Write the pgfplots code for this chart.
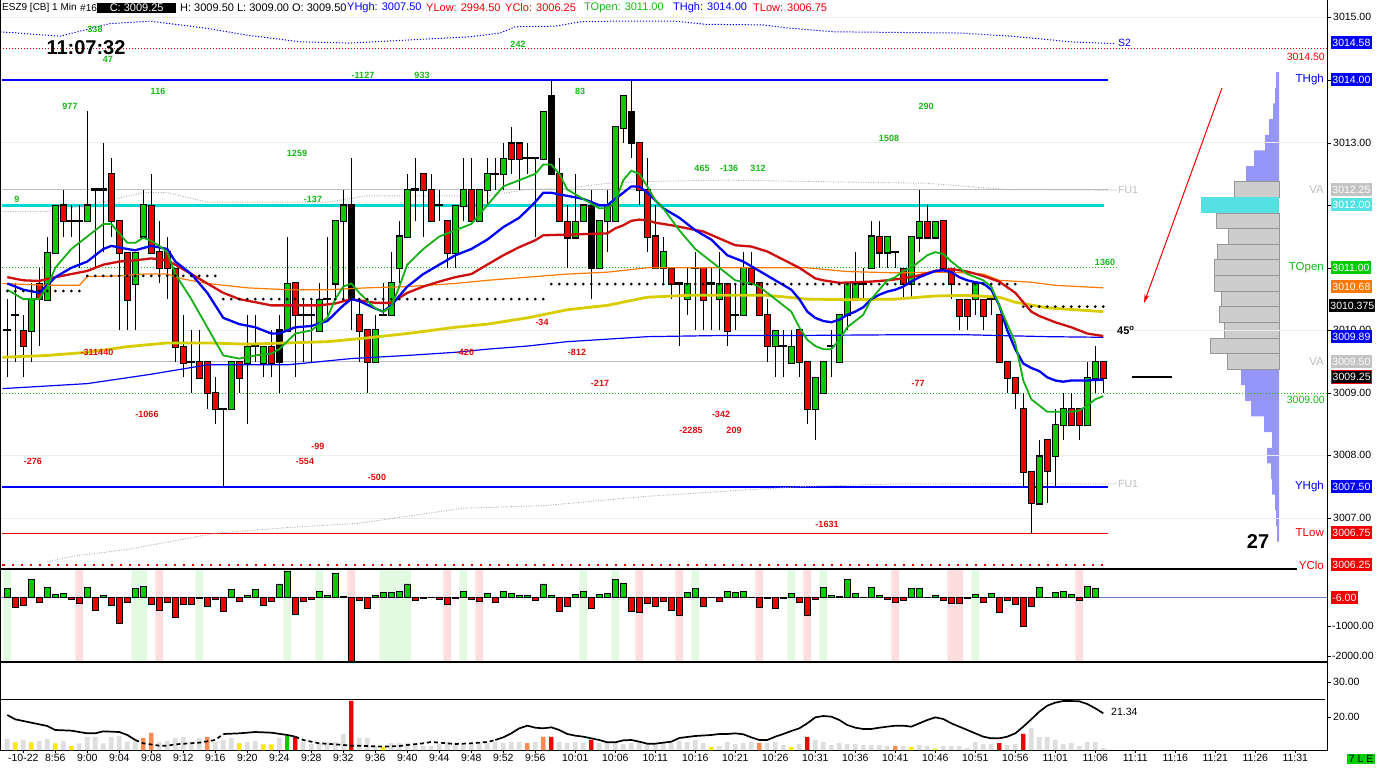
\documentclass[border=0pt]{standalone}
\usepackage{pgfplots}
\pgfplotsset{compat=1.18}
\usepackage{pgfplotstable}
\usepackage{fontspec}
\setmainfont{Liberation Sans}
\usetikzlibrary{arrows.meta}
\definecolor{cgreen}{RGB}{0,205,0}
\definecolor{cred}{RGB}{240,0,0}
\definecolor{magreen}{RGB}{20,175,20}
\definecolor{mablue}{RGB}{0,0,250}
\definecolor{mared}{RGB}{205,15,15}
\definecolor{maorange}{RGB}{255,120,0}
\definecolor{mayellow}{RGB}{215,205,0}
\definecolor{lcyan}{RGB}{0,215,215}
\definecolor{bcyan}{RGB}{85,225,225}
\definecolor{lav}{RGB}{150,150,250}
\definecolor{pgrey}{RGB}{205,205,205}
\definecolor{pgreyd}{RGB}{150,150,150}
\definecolor{tgreen}{RGB}{20,185,20}
\definecolor{tred}{RGB}{220,10,10}
\definecolor{shgc}{RGB}{226,250,226}
\definecolor{shrc}{RGB}{252,222,222}
\definecolor{vgrey}{RGB}{222,222,222}
\definecolor{vyellow}{RGB}{250,235,0}
\definecolor{vorange}{RGB}{250,140,80}
\definecolor{gridl}{RGB}{236,236,236}
\definecolor{vagrey}{RGB}{190,190,190}
\definecolor{dotgrey}{RGB}{175,175,175}
\definecolor{boxgrey}{RGB}{195,195,195}
\definecolor{zline}{RGB}{110,130,200}
\newcommand\fs[1]{\fontsize{#1}{#1}\selectfont}
\pgfplotsset{base/.style={scale only axis, hide axis, clip=false, anchor=south west, xmin=-0.9125, xmax=165.0875, width=1328pt},
 eb/.style 2 args={draw=none, mark=none, error bars/y dir=both, error bars/y explicit, error bars/error mark=none, error bars/error bar style={draw=#1, solid, line width=#2}}}
\tikzset{
 gt/.style={font=\fs{9}\bfseries, text=tgreen, inner sep=0pt},
 rt/.style={font=\fs{9}\bfseries, text=tred, inner sep=0pt},
 al/.style={font=\fs{10.5}, inner sep=0pt, anchor=west},
 bx/.style={font=\fs{10.5}, inner sep=1.2pt, anchor=west, fill=#1, text=white, minimum height=13pt},
 ll/.style={font=\fs{11.5}, inner sep=0pt, anchor=east},
 hd/.style={font=\fs{11}, inner sep=0pt, anchor=west},
}
% ---------- candle data ----------
\pgfplotstableread{
k H L
0 3010.50 3009.25
1 3010.75 3009.50
2 3010.25 3009.25
3 3010.75 3009.50
4 3011.00 3009.75
5 3011.50 3010.50
6 3012.00 3011.25
7 3012.25 3011.50
8 3012.00 3011.50
9 3012.00 3011.00
10 3013.50 3011.75
11 3012.25 3011.00
12 3013.00 3011.25
13 3012.75 3011.50
14 3011.75 3010.00
15 3011.25 3010.00
16 3011.25 3010.00
17 3012.25 3011.50
18 3012.50 3011.25
19 3011.75 3010.75
20 3011.50 3010.50
21 3011.00 3009.50
22 3010.25 3009.25
23 3010.00 3009.00
24 3010.00 3009.25
25 3009.50 3008.75
26 3009.25 3008.50
27 3008.75 3007.50
28 3009.50 3008.75
29 3009.50 3009.00
30 3010.25 3008.50
31 3010.25 3009.50
32 3009.75 3009.25
33 3010.00 3009.25
34 3010.25 3009.00
35 3011.50 3010.00
36 3010.75 3009.25
37 3010.50 3009.50
38 3010.50 3009.50
39 3010.75 3010.00
40 3011.50 3010.25
41 3011.75 3010.50
42 3012.25 3010.50
43 3012.75 3010.00
44 3010.50 3009.50
45 3010.00 3009.00
46 3010.25 3009.50
47 3010.75 3010.25
48 3011.25 3010.25
49 3011.75 3010.75
50 3012.50 3011.50
51 3012.75 3011.75
52 3012.50 3011.50
53 3012.50 3011.75
54 3012.25 3011.75
55 3011.75 3011.00
56 3012.00 3011.00
57 3012.75 3011.75
58 3012.75 3011.75
59 3012.25 3011.75
60 3012.75 3012.00
61 3012.75 3012.25
62 3013.00 3012.25
63 3013.25 3012.50
64 3013.00 3012.25
65 3013.00 3012.50
66 3012.75 3011.50
67 3013.50 3012.75
68 3014.00 3012.50
69 3012.75 3011.75
70 3012.00 3011.00
71 3012.50 3011.50
72 3012.00 3011.75
73 3012.25 3010.50
74 3011.75 3011.00
75 3012.25 3011.25
76 3013.25 3011.75
77 3013.75 3013.00
78 3014.00 3012.75
79 3013.00 3012.00
80 3012.75 3011.25
81 3012.00 3011.00
82 3011.50 3010.75
83 3011.00 3010.50
84 3010.75 3009.75
85 3011.00 3010.25
86 3011.25 3010.00
87 3011.00 3010.00
88 3011.00 3010.00
89 3011.25 3010.00
90 3010.75 3009.75
91 3010.75 3010.00
92 3011.25 3010.25
93 3011.25 3010.75
94 3010.75 3010.25
95 3010.50 3009.50
96 3010.00 3009.25
97 3010.00 3009.25
98 3010.00 3009.50
99 3010.00 3009.25
100 3009.50 3008.50
101 3009.25 3008.25
102 3009.50 3009.00
103 3010.00 3009.25
104 3010.25 3009.50
105 3010.75 3010.00
106 3011.25 3010.50
107 3011.00 3010.50
108 3011.75 3011.00
109 3011.75 3011.00
110 3011.50 3011.00
111 3011.25 3011.00
112 3011.00 3010.50
113 3011.50 3010.50
114 3012.25 3011.25
115 3012.00 3011.50
116 3011.75 3011.50
117 3011.75 3011.00
118 3011.00 3010.50
119 3010.50 3010.00
120 3010.50 3010.00
121 3010.75 3010.25
122 3010.50 3010.00
123 3010.50 3010.25
124 3010.25 3009.50
125 3009.50 3009.00
126 3009.25 3008.75
127 3009.00 3007.50
128 3007.75 3006.75
129 3008.25 3007.25
130 3008.25 3007.25
131 3008.75 3007.50
132 3009.00 3008.25
133 3009.00 3008.50
134 3008.75 3008.25
135 3009.50 3008.50
136 3009.75 3009.00
137 3009.50 3009.00
}\tWick
\pgfplotstableread{
k O C
3 3010.00 3010.50
5 3010.50 3011.25
6 3011.25 3012.00
10 3011.75 3012.00
16 3010.75 3011.25
17 3011.50 3012.00
28 3008.75 3009.50
30 3009.50 3009.75
32 3009.50 3009.75
35 3010.00 3010.75
39 3010.00 3010.50
41 3010.75 3011.75
42 3011.75 3012.00
46 3009.50 3010.00
48 3010.25 3010.75
49 3011.00 3011.50
50 3011.50 3012.25
56 3011.25 3012.00
57 3012.00 3012.25
59 3011.75 3012.25
60 3012.25 3012.50
62 3012.50 3012.75
67 3012.75 3013.50
71 3011.50 3011.75
72 3011.75 3012.00
74 3011.00 3011.75
75 3011.75 3012.00
76 3011.75 3013.25
77 3013.25 3013.75
82 3011.00 3011.25
85 3010.50 3010.75
89 3010.50 3010.75
92 3010.25 3011.00
96 3009.75 3010.00
98 3009.50 3009.75
101 3008.75 3009.25
102 3009.00 3009.50
104 3009.50 3010.25
105 3010.25 3010.75
106 3010.50 3010.75
108 3011.00 3011.50
110 3011.25 3011.50
113 3010.75 3011.50
114 3011.50 3011.75
116 3011.50 3011.75
121 3010.50 3010.75
129 3007.25 3008.00
131 3008.00 3008.50
132 3008.50 3008.75
135 3008.50 3009.25
136 3009.25 3009.50
}\tUp
\pgfplotstableread{
k O C
2 3010.00 3009.75
4 3010.75 3010.50
7 3012.00 3011.75
13 3012.50 3011.75
14 3011.75 3011.25
15 3011.25 3010.50
18 3012.00 3011.25
19 3011.25 3011.00
20 3011.25 3011.00
21 3011.00 3009.75
22 3009.75 3009.50
24 3009.50 3009.25
25 3009.50 3009.00
26 3009.00 3008.75
29 3009.50 3009.25
33 3009.75 3009.50
36 3010.75 3010.25
44 3010.25 3010.00
45 3010.00 3009.50
52 3012.50 3012.25
53 3012.25 3011.75
55 3011.75 3011.25
58 3012.25 3011.75
63 3013.00 3012.75
64 3013.00 3012.75
69 3012.50 3011.75
70 3011.75 3011.50
79 3013.00 3012.25
80 3012.25 3011.50
81 3011.50 3011.00
83 3011.00 3010.75
87 3011.00 3010.50
90 3010.75 3010.00
93 3011.00 3010.75
94 3010.75 3010.25
95 3010.25 3009.75
99 3010.00 3009.50
100 3009.50 3008.75
109 3011.50 3011.25
112 3011.00 3010.75
115 3011.75 3011.50
117 3011.75 3011.00
118 3011.00 3010.75
119 3010.50 3010.25
120 3010.50 3010.25
122 3010.50 3010.25
124 3010.25 3009.50
125 3009.50 3009.25
126 3009.25 3009.00
127 3008.75 3007.75
128 3007.75 3007.25
130 3008.25 3007.75
133 3008.75 3008.50
134 3008.75 3008.50
137 3009.50 3009.25
}\tDn
\pgfplotstableread{
k O C
34 3010.00 3009.50
43 3012.00 3010.50
68 3013.75 3012.50
73 3012.00 3011.00
78 3013.50 3013.00
}\tBlk
\pgfplotstableread{
k P
0 3010.00
1 3010.25
8 3011.75
9 3011.75
11 3012.25
12 3012.25
23 3009.50
27 3008.75
31 3009.75
37 3010.25
38 3010.25
40 3010.50
47 3010.25
51 3012.25
54 3012.00
61 3012.50
65 3012.75
66 3012.75
84 3010.75
86 3011.00
88 3010.75
91 3010.25
97 3009.75
103 3009.75
107 3010.75
111 3011.25
123 3010.50
}\tDoji
% ---------- delta ----------
\pgfplotstableread{
k v
0 318
3 611
5 353
6 118
7 153
10 353
12 82
16 318
17 388
28 282
30 82
31 282
34 470
35 917
39 212
40 82
41 847
42 35
46 82
47 176
48 176
49 212
50 470
53 15
57 212
60 141
62 212
63 141
64 59
65 82
67 470
68 82
71 106
72 212
74 118
75 141
76 611
77 505
85 176
86 318
88 15
90 212
91 176
92 212
93 20
98 141
102 353
103 82
104 35
105 623
106 141
107 20
108 353
109 82
113 318
114 318
115 15
116 82
121 106
123 141
129 353
130 15
131 176
132 212
133 118
135 388
136 318
}\tDpos
\pgfplotstableread{
k v
1 -353
2 -270
4 -176
8 -70
9 -212
11 -435
13 -270
14 -882
15 -176
18 -247
19 -435
20 -176
21 -670
22 -247
23 -247
24 -35
25 -318
26 -70
27 -470
29 -141
32 -270
33 -141
36 -564
37 -141
38 -70
43 -2224
44 -106
45 -388
51 -106
52 -35
54 -70
55 -247
56 -35
58 -70
59 -141
61 -176
66 -106
69 -494
70 -318
73 -388
78 -470
79 -529
80 -212
81 -318
82 -141
83 -435
84 -600
87 -318
89 -141
94 -353
95 -20
96 -388
97 -35
99 -176
100 -600
101 -70
110 -70
111 -176
112 -106
117 -106
118 -212
119 -212
120 -20
122 -176
124 -529
125 -106
126 -247
127 -1000
128 -294
134 -106
}\tDneg
\pgfplotstableread{
k top bot
0 983 -2224
16 983 -2224
17 983 -2224
24 983 -2224
35 983 -2224
39 983 -2224
47 983 -2224
48 983 -2224
49 983 -2224
50 983 -2224
57 983 -2224
72 983 -2224
76 983 -2224
86 983 -2224
98 983 -2224
102 983 -2224
121 983 -2224
}\tShG
\pgfplotstableread{
k top bot
9 983 -2224
19 983 -2224
43 983 -2224
55 983 -2224
59 983 -2224
79 983 -2224
84 983 -2224
94 983 -2224
100 983 -2224
111 983 -2224
118 983 -2224
119 983 -2224
134 983 -2224
}\tShR
% ---------- volume ----------
\pgfplotstableread{
k h
0 11
1 7.7
2 10
3 7.7
4 9
5 11
6 6.7
7 9
8 4
9 6.7
10 13
11 13
12 6.7
13 13
14 14
15 8
16 9
17 12
18 17
19 8
20 9
21 12
22 13
23 8
24 12
25 13
26 8
27 10
28 12
29 6.7
30 8
31 9
32 5.7
33 5.7
34 12
35 14
36 13
37 8
38 6
39 7
40 8
41 8
42 16
43 49
44 12
45 12
46 4
47 3
48 7
49 7
50 7
51 5
52 4
53 4
54 6
55 8
56 7
57 7
58 6
59 8
60 7
61 8
62 7
63 8
64 8
65 7
66 8
67 13
68 13
69 8
70 7
71 8
72 7
73 10
74 7
75 7
76 8
77 6
78 7
79 8
80 7
81 6
82 7
83 7
84 9
85 8
86 10
87 7
88 3
89 4
90 8
91 6
92 7
93 8
94 7
95 7
96 8
97 5
98 3
99 6
100 13
101 10
102 8
103 5
104 7
105 6
106 6
107 5
108 5
109 5
110 4
111 4
112 4
113 3
114 5
115 4
116 1.5
117 4
118 4
119 4
120 2
121 8
122 6
123 6
124 7
125 5
126 6
127 16
128 22
129 13
130 13
131 10
132 6
133 7
134 4
135 8
136 8
137 2
}\tVol
\begin{document}
\begin{tikzpicture}
\useasboundingbox (0pt,0pt) rectangle (1377pt,769pt);
% ================= volume profile =================
\begin{axis}[scale only axis, hide axis, clip=false, anchor=south west, at={(1179pt,200pt)}, width=100pt, height=557pt, xmin=0, xmax=100, x dir=reverse, ymin=3006.1885, ymax=3015.0863]
\addplot[xbar, bar width=0.25, bar shift=0pt, fill=lav, draw=none] coordinates {(3,3014) (4,3013.75) (6,3013.5) (10,3013.25) (14,3013) (25,3012.75) (33,3012.5) (38,3009.25) (34,3009) (28,3008.75) (15,3008.5) (7,3008.25) (12,3008) (8,3007.75) (7,3007.5) (4,3007.25) (3,3007) (2,3006.75)};
\addplot[xbar, bar width=0.25, bar shift=0pt, fill=pgrey, draw=pgreyd, line width=1pt] coordinates {(45,3012.25) (63,3011.75) (51,3011.5) (62,3011.25) (65,3011) (65,3010.75) (58,3010.5) (60,3010.25) (55,3010) (69,3009.75) (52,3009.5)};
\addplot[xbar, bar width=0.25, bar shift=0pt, fill=bcyan, draw=none] coordinates {(78,3012)};
\end{axis}
% ================= main price panel =================
\begin{axis}[base, at={(0pt,200pt)}, height=557pt, ymin=3006.1885, ymax=3015.0863]
\addplot[gridl, line width=1pt] coordinates {(-0.9,3015) (165.08,3015)};
\addplot[gridl, line width=1pt] coordinates {(-0.9,3013) (165.08,3013)};
\addplot[gridl, line width=1pt] coordinates {(-0.9,3010) (165.08,3010)};
\addplot[gridl, line width=1pt] coordinates {(-0.9,3008) (165.08,3008)};
\addplot[gridl, line width=1pt] coordinates {(-0.9,3007) (165.08,3007)};
% reference levels
\addplot[vagrey, line width=1.2pt] coordinates {(-0.6,3012.25) (137.6,3012.25)};
\addplot[vagrey, line width=1.2pt] coordinates {(-0.6,3009.5) (137.6,3009.5)};
\addplot[tgreen, line width=1pt, dash pattern=on 1pt off 2pt] coordinates {(-0.6,3011) (138.8,3011)};
\addplot[tgreen, line width=1pt, dash pattern=on 1pt off 2pt] coordinates {(-0.6,3009) (165,3009)};
\addplot[mablue, line width=1.3pt] coordinates {(-0.6,3014) (137.6,3014)};
\addplot[lcyan, line width=2.6pt] coordinates {(-0.6,3012) (137.1,3012)};
\addplot[mablue, line width=2.2pt] coordinates {(-0.6,3007.5) (137.6,3007.5)};
\addplot[cred, line width=1.2pt] coordinates {(-0.6,3006.75) (137.6,3006.75)};
\addplot[cred, line width=2.5pt, dash pattern=on 2.5pt off 6.5pt] coordinates {(-0.6,3006.25) (137,3006.25)};
\addplot[cred!85!black, line width=0.8pt, dash pattern=on 1pt off 2pt] coordinates {(-0.9,3014.5) (165,3014.5)};
% S2 curve
\addplot[mablue, line width=1pt, dash pattern=on 1.2pt off 1.8pt] coordinates {(-0.9,3014.77) (6.6,3014.70) (12.8,3014.9) (17.8,3014.94) (24.7,3014.83) (29.8,3014.72) (36.6,3014.61) (42.8,3014.59) (50.3,3014.64) (57.8,3014.69) (61.6,3014.75) (63.5,3014.85) (68.5,3014.86) (71.6,3014.93) (76,3014.94) (83.5,3014.94) (87.3,3014.89) (94.5,3014.88) (97.6,3014.83) (103.2,3014.77) (119.2,3014.75) (125.5,3014.70) (129.7,3014.65) (132.8,3014.61) (138.5,3014.58)};
% FU1 curves
\addplot[dotgrey, line width=0.9pt, dash pattern=on 1pt off 1.5pt] coordinates {(-0.6,3011.9) (5,3011.9) (10,3012.0) (17,3012.2) (20,3012.2) (25,3012.05) (40,3012.05) (45,3012.15) (60,3012.15) (65,3012.25) (70,3012.27) (75,3012.35) (80,3012.38) (90,3012.4) (100,3012.38) (115,3012.35) (120,3012.3) (125,3012.25) (138.8,3012.24)};
\addplot[dotgrey, line width=0.9pt, dash pattern=on 1pt off 1.5pt] coordinates {(5,3006.3) (8,3006.39) (15,3006.5) (26,3006.76) (35,3006.85) (44,3006.92) (57,3007.16) (67,3007.2) (80,3007.35) (92,3007.45) (100,3007.51) (112,3007.55) (138.8,3007.55)};
% candles: wicks
\addplot[draw=none, mark=none, error bars/y dir=plus, error bars/y explicit, error bars/error mark=none, error bars/error bar style={draw=black, solid, line width=1pt}] table[x=k, y=L, y error expr={\thisrow{H}-\thisrow{L}}] {\tWick};
% up bodies
\addplot[eb={black}{7pt}] table[x=k, y expr={(\thisrow{O}+\thisrow{C})/2}, y error expr={abs(\thisrow{C}-\thisrow{O})/2+0.017}] {\tUp};
\addplot[eb={cgreen}{5pt}] table[x=k, y expr={(\thisrow{O}+\thisrow{C})/2}, y error expr={abs(\thisrow{C}-\thisrow{O})/2}] {\tUp};
% down bodies
\addplot[eb={black}{7pt}] table[x=k, y expr={(\thisrow{O}+\thisrow{C})/2}, y error expr={abs(\thisrow{C}-\thisrow{O})/2+0.017}] {\tDn};
\addplot[eb={cred}{5pt}] table[x=k, y expr={(\thisrow{O}+\thisrow{C})/2}, y error expr={abs(\thisrow{C}-\thisrow{O})/2}] {\tDn};
% black bodies
\addplot[eb={black}{7pt}] table[x=k, y expr={(\thisrow{O}+\thisrow{C})/2}, y error expr={abs(\thisrow{C}-\thisrow{O})/2+0.017}] {\tBlk};
% doji
\addplot[eb={black}{8pt}] table[x=k, y=P, y error expr={0.017}] {\tDoji};
% moving averages
\addplot[mablue, line width=1.2pt] coordinates {(-0.6,3009.07) (10,3009.15) (18,3009.3) (25,3009.45) (35,3009.45) (43,3009.55) (50,3009.6) (56,3009.65) (60,3009.7) (65,3009.75) (70,3009.82) (80,3009.9) (90,3009.92) (100,3009.92) (111,3009.93) (120,3009.93) (130,3009.9) (137,3009.89)};
\addplot[mayellow, line width=2.8pt] coordinates {(-0.6,3009.57) (5,3009.6) (10,3009.65) (15,3009.74) (20,3009.8) (25,3009.8) (30,3009.78) (35,3009.8) (40,3009.82) (45,3009.88) (50,3009.95) (56,3010.05) (60,3010.1) (65,3010.2) (70,3010.33) (75,3010.4) (80,3010.53) (85,3010.56) (90,3010.56) (95,3010.56) (100,3010.5) (105,3010.49) (111,3010.5) (116,3010.55) (120,3010.56) (124,3010.53) (126,3010.45) (130,3010.36) (137,3010.3)};
\addplot[maorange, line width=1.2pt] coordinates {(-0.6,3010.75) (5,3010.72) (9,3010.72) (10,3010.86) (14,3010.87) (17,3010.9) (20,3010.9) (22,3010.82) (25,3010.75) (30,3010.68) (35,3010.65) (40,3010.65) (45,3010.68) (50,3010.7) (56,3010.75) (60,3010.8) (65,3010.85) (70,3010.9) (75,3010.93) (80,3011.0) (90,3011.0) (100,3011.0) (105,3010.94) (111,3010.92) (118,3010.93) (122,3010.9) (124,3010.8) (128,3010.77) (131,3010.72) (137,3010.68)};
\addplot[mared, line width=2.3pt] coordinates {(0,3010.85) (2,3010.8) (4,3010.79) (6,3010.85) (8,3010.9) (10,3010.95) (12,3011.05) (14,3011.1) (16,3011.12) (18,3011.15) (20,3011.12) (21,3011.05) (23,3010.9) (25,3010.75) (27,3010.6) (29,3010.5) (31,3010.45) (33,3010.4) (35,3010.4) (37,3010.4) (39,3010.4) (41,3010.43) (43,3010.5) (45,3010.46) (46,3010.44) (48,3010.44) (50,3010.6) (52,3010.7) (54,3010.78) (56,3010.85) (58,3010.9) (60,3011.05) (62,3011.2) (64,3011.33) (66,3011.44) (67,3011.52) (70,3011.53) (75,3011.55) (76,3011.63) (77,3011.68) (78,3011.75) (79,3011.77) (80,3011.76) (81,3011.72) (83,3011.68) (85,3011.63) (87,3011.58) (89,3011.47) (91,3011.36) (93,3011.34) (95,3011.26) (97,3011.13) (99,3011.0) (101,3010.83) (102,3010.8) (104,3010.76) (106,3010.77) (108,3010.78) (110,3010.8) (112,3010.83) (114,3010.88) (116,3010.95) (118,3010.98) (120,3010.94) (122,3010.87) (124,3010.78) (126,3010.6) (127,3010.45) (128,3010.3) (129,3010.23) (131,3010.13) (133,3010.05) (135,3009.95) (137,3009.91)};
\addplot[mablue, line width=2.3pt] coordinates {(0,3010.75) (2,3010.65) (4,3010.6) (6,3010.85) (8,3011.0) (10,3011.1) (12,3011.3) (13,3011.35) (15,3011.3) (16,3011.28) (18,3011.35) (20,3011.3) (21,3011.1) (23,3010.9) (25,3010.6) (27,3010.2) (29,3010.1) (31,3010.05) (33,3009.95) (34,3009.95) (36,3010.05) (38,3010.07) (40,3010.15) (42,3010.4) (43,3010.5) (44,3010.47) (46,3010.35) (47,3010.3) (48,3010.4) (49,3010.55) (50,3010.7) (52,3010.9) (54,3011.05) (56,3011.2) (58,3011.3) (60,3011.45) (62,3011.65) (64,3011.8) (66,3012.05) (67,3012.2) (68,3012.2) (69,3012.17) (70,3012.15) (72,3012.1) (74,3012.0) (75,3012.0) (76,3012.1) (77,3012.2) (78,3012.3) (79,3012.3) (80,3012.2) (81,3012.08) (82,3011.95) (84,3011.8) (86,3011.6) (88,3011.45) (90,3011.2) (92,3011.1) (94,3010.95) (96,3010.8) (98,3010.65) (99,3010.5) (100,3010.3) (101,3010.2) (102,3010.15) (103,3010.13) (104,3010.17) (105,3010.25) (106,3010.3) (107,3010.37) (108,3010.5) (109,3010.57) (110,3010.62) (111,3010.65) (112,3010.7) (113,3010.78) (114,3010.85) (115,3010.9) (116,3010.95) (117,3010.96) (118,3010.93) (119,3010.85) (120,3010.8) (121,3010.77) (122,3010.75) (123,3010.65) (124,3010.4) (125,3010.0) (126,3009.7) (127,3009.47) (128,3009.4) (129,3009.35) (130,3009.25) (131,3009.2) (132,3009.18) (133,3009.2) (134,3009.2) (135,3009.2) (136,3009.21) (137,3009.21)};
\addplot[magreen, line width=1.8pt] coordinates {(0,3010.65) (2,3010.5) (4,3010.5) (5,3010.7) (6,3011.0) (8,3011.3) (10,3011.5) (12,3011.7) (13,3011.7) (15,3011.4) (16,3011.4) (17,3011.48) (18,3011.43) (19,3011.35) (20,3011.25) (21,3010.9) (23,3010.5) (25,3010.05) (27,3009.6) (29,3009.55) (31,3009.6) (33,3009.63) (34,3009.7) (36,3009.95) (38,3010.0) (40,3010.2) (41,3010.5) (42,3010.7) (43,3010.75) (44,3010.6) (46,3010.35) (47,3010.3) (48,3010.38) (49,3010.7) (50,3011.05) (52,3011.3) (54,3011.5) (56,3011.6) (58,3011.7) (60,3012.0) (62,3012.3) (64,3012.4) (66,3012.5) (67,3012.65) (68,3012.65) (69,3012.5) (70,3012.25) (72,3012.1) (74,3011.95) (75,3011.95) (76,3012.05) (77,3012.4) (78,3012.55) (79,3012.5) (80,3012.3) (81,3012.08) (82,3011.95) (84,3011.6) (86,3011.3) (88,3011.1) (89,3011.0) (91,3010.8) (93,3010.75) (94,3010.7) (96,3010.5) (98,3010.3) (99,3010.05) (100,3009.85) (101,3009.75) (102,3009.7) (103,3009.7) (104,3009.85) (105,3010.05) (106,3010.15) (107,3010.25) (108,3010.5) (109,3010.65) (110,3010.8) (111,3010.85) (112,3010.95) (113,3011.0) (114,3011.1) (115,3011.2) (116,3011.25) (117,3011.22) (118,3011.1) (119,3011.0) (120,3010.9) (121,3010.85) (122,3010.8) (123,3010.7) (124,3010.4) (125,3010.1) (126,3009.8) (127,3009.2) (128,3008.9) (129,3008.8) (130,3008.7) (131,3008.7) (132,3008.7) (133,3008.7) (134,3008.72) (135,3008.8) (136,3008.9) (137,3008.95)};
% pivot dots
\addplot[black, line width=3pt, line cap=round, dash pattern=on 0pt off 8pt] coordinates {(0,3010.63) (9.2,3010.63)};
\addplot[black, line width=3pt, line cap=round, dash pattern=on 0pt off 8pt] coordinates {(10,3010.87) (26.2,3010.87)};
\addplot[black, line width=3pt, line cap=round, dash pattern=on 0pt off 8pt] coordinates {(27,3010.5) (67.2,3010.5)};
\addplot[black, line width=3pt, line cap=round, dash pattern=on 0pt off 8pt] coordinates {(68,3010.74) (126.2,3010.74)};
\addplot[black, line width=3pt, line cap=round, dash pattern=on 0pt off 8pt] coordinates {(127,3010.38) (137.2,3010.38)};
\end{axis}
% ================= delta panel =================
\begin{axis}[base, at={(0pt,107pt)}, height=93pt, ymin=-2224, ymax=983]
\addplot[ybar, bar width=0.95, bar shift=0pt, fill=shgc, draw=none] table[x=k, y=top] {\tShG};
\addplot[ybar, bar width=0.95, bar shift=0pt, fill=shgc, draw=none] table[x=k, y=bot] {\tShG};
\addplot[ybar, bar width=0.95, bar shift=0pt, fill=shrc, draw=none] table[x=k, y=top] {\tShR};
\addplot[ybar, bar width=0.95, bar shift=0pt, fill=shrc, draw=none] table[x=k, y=bot] {\tShR};
\addplot[zline, line width=1pt] coordinates {(-0.9,0) (165.08,0)};
\addplot[ybar, bar width=0.78, bar shift=0pt, fill=cgreen, draw=black, line width=0.7pt] table[x=k, y=v] {\tDpos};
\addplot[ybar, bar width=0.78, bar shift=0pt, fill=cred, draw=black, line width=0.7pt] table[x=k, y=v] {\tDneg};
\end{axis}
% ================= volume + time axis =================
\begin{axis}[scale only axis, anchor=south west, at={(0pt,19pt)}, xmin=-0.9125, xmax=165.0875, width=1328pt, height=88pt, ymin=0, ymax=88, clip=false,
  axis x line*=bottom, axis y line=none, x axis line style={-, line width=1pt},
  xtick={2,6,10,14,18,22,26,30,34,38,42,46,50,54,58,62,66,71,76,81,86,91,96,101,106,111,116,121,126,131,136,141,146,151,156,161},
  xticklabels={-10-22,8:56,9:00,9:04,9:08,9:12,9:16,9:20,9:24,9:28,9:32,9:36,9:40,9:44,9:48,9:52,9:56,10:01,10:06,10:11,10:16,10:21,10:26,10:31,10:36,10:41,10:46,10:51,10:56,11:01,11:06,11:11,11:16,11:21,11:26,11:31},
  tick align=outside, major tick length=3pt, xtick style={black, line width=0.8pt},
  xticklabel style={font=\fs{10.5}, inner sep=1pt}]
\addplot[ybar, bar width=0.6, bar shift=0pt, fill=vgrey, draw=none] table[x=k, y=h] {\tVol};
\addplot[ybar, bar width=0.55, bar shift=0pt, fill=vyellow, draw=none] coordinates {(1,7.7) (3,7.7) (6,6.7) (8,4) (29,6.7) (32,5.7) (33,5.7) (47,3) (88,3) (98,3) (113,3) (116,1.5)};
\addplot[ybar, bar width=0.55, bar shift=0pt, fill=vorange, draw=none] coordinates {(17,12) (18,17) (25,13) (65,7) (67,13) (94,7) (111,4)};
\addplot[ybar, bar width=0.55, bar shift=0pt, fill=cred, draw=none] coordinates {(36,13) (43,49) (68,13) (73,10) (100,13) (124,7) (127,16)};
\addplot[ybar, bar width=0.55, bar shift=0pt, fill=cgreen, draw=none] coordinates {(35,14)};
\end{axis}
\begin{axis}[base, at={(0pt,19pt)}, height=88pt, ymin=10.571, ymax=35.714]
\addplot[black, line width=1.7pt] coordinates {(0,20.57) (1,19.33) (3,18.38) (5,17.43) (6,16.29) (8,16.1) (10,15.33) (11,15.33) (12,15.9) (14,15.71) (15,14.86) (16,13.43)};
\addplot[black, line width=1.7pt, dash pattern=on 4pt off 3pt] coordinates {(16,13.43) (17,12.48) (19,11.81) (20,11.81) (21,12.19) (24,12.67) (26,13.43) (27,15.14)};
\addplot[black, line width=1.7pt] coordinates {(27,15.14) (29,15.33) (31,15.71) (33,15.52) (35,14.86) (36,14.38)};
\addplot[black, line width=1.7pt, dash pattern=on 4pt off 3pt] coordinates {(36,14.38) (37,13.43) (39,12.48) (41,12.19) (43,11.81) (45,11.71) (47,11.52) (49,11.71) (50,12.0) (52,12.48) (53,12.86) (55,12.48) (56,12.29) (58,12.48) (60,12.86) (61,13.43)};
\addplot[black, line width=1.7pt] coordinates {(61,13.43) (62,14.19) (63,15.33) (64,16.76) (65,17.52) (66,16.95) (67,16.76) (68,17.05) (69,16.29) (70,15.14) (71,14.67) (72,14.38) (73,13.9) (74,13.43) (75,12.76) (76,12.76) (77,13.33) (78,13.43) (79,12.95) (80,12.38) (81,12.38) (82,12.67) (83,12.95) (84,14.0) (85,14.29) (86,14.57) (88,14.86) (89,15.14) (90,15.14) (91,15.33) (92,15.05) (93,14.19) (94,13.43) (95,13.43) (96,14.38) (97,15.14) (98,16.0) (99,16.76) (100,18.19) (101,19.9) (102,20.29) (103,20.1) (104,19.14) (105,17.71) (106,16.95) (107,16.57) (108,16.57) (109,16.95) (110,17.24) (111,17.52) (112,17.52) (113,17.24) (114,18.19) (115,19.14) (116,19.9) (117,19.43) (118,18.19) (119,17.24) (120,16.29) (121,15.33) (122,14.38) (123,13.9) (124,13.9) (125,14.38) (126,15.33) (127,17.24) (128,19.33) (129,21.52) (130,23.24) (131,24.1) (132,24.57) (133,24.57) (134,24.48) (135,23.71) (136,22.48) (137,21.05)};
\end{axis}
\begin{scope}[x=1pt,y=1pt]
% ================= frame lines =================
\draw[black, line width=1pt] (1327.5,19) -- (1327.5,769);
\draw[black, line width=0.8pt] (0.5,19) -- (0.5,769);
\draw[black, line width=1.2pt] (0,200) -- (1297,200);
\draw[black, line width=1.2pt] (0,107) -- (1327.5,107);
\draw[black, line width=1pt] (0,69) -- (1325,69);
\foreach \yy in {752,689,626,564,501,439,376,314,251,143,113,87,52} \draw[black, line width=0.8pt] (1327.5,\yy) -- (1331,\yy);
% ================= header =================
\node[hd, font=\fs{10}] at (2,761) {ESZ9 [CB] 1 Min};
\node[hd, font=\fs{10}] at (80,761) {\#16};
\node[hd, fill=black, text=white, inner sep=1pt, minimum width=79pt] at (97,761) {C: 3009.25};
\node[hd] at (180,761) {H: 3009.50 L: 3009.00 O: 3009.50};
\node[hd, text=mablue] at (347,761) {YHgh: 3007.50};
\node[hd, text=cred] at (426,761) {YLow: 2994.50};
\node[hd, text=cred] at (505,761) {YClo: 3006.25};
\node[hd, text=tgreen] at (584,761) {TOpen: 3011.00};
\node[hd, text=mablue] at (673,761) {THgh: 3014.00};
\node[hd, text=cred] at (753,761) {TLow: 3006.75};
\node[gt] at (108,710) {47};
\node[font=\fs{20}\bfseries, inner sep=0pt] at (86,721) {11:07:32};
% ================= delta annotations =================
\node[gt] at (95,740) {338};
\node[gt] at (518,725) {242};
\node[gt] at (70,663) {977};
\node[gt] at (158,678) {116};
\node[gt] at (363,694) {-1127};
\node[gt] at (422,694) {933};
\node[gt] at (580,678) {83};
\node[gt] at (297,616) {1259};
\node[gt] at (17,570) {9};
\node[gt] at (313,570) {-137};
\node[gt] at (702,601) {465};
\node[gt] at (729,601) {-136};
\node[gt] at (758,601) {312};
\node[gt] at (889,631) {1508};
\node[gt] at (926,663) {290};
\node[gt] at (1105,507) {1360};
\node[rt] at (97,417) {-311440};
\node[rt] at (542,447) {-34};
\node[rt] at (465,417) {-420};
\node[rt] at (577,417) {-812};
\node[rt] at (600,386) {-217};
\node[rt] at (147,355) {-1066};
\node[rt] at (721,355) {-342};
\node[rt] at (918,386) {-77};
\node[rt] at (691,339) {-2285};
\node[rt] at (734,339) {209};
\node[rt] at (318,323) {-99};
\node[rt] at (33,308) {-276};
\node[rt] at (305,308) {-554};
\node[rt] at (377,292) {-500};
\node[rt] at (827,245) {-1631};
% ================= right side labels =================
\node[al] at (1333,752) {3015.00};
\node[al] at (1333,626) {3013.00};
\node[al] at (1333,439) {3010.00};
\node[al] at (1333,376) {3009.00};
\node[al] at (1333,314) {3008.00};
\node[al] at (1333,251) {3007.00};
\node[al] at (1332,143) {-1000.00};
\node[al] at (1332,113) {-2000.00};
\node[al] at (1333,87) {30.00};
\node[al] at (1333,52) {20.00};
\node[bx=mablue] at (1331,726) {3014.58};
\node[bx=mablue] at (1331,689) {3014.00};
\node[bx=boxgrey] at (1331,579) {3012.25};
\node[bx=bcyan] at (1331,564) {3012.00};
\node[bx=cgreen] at (1331,501) {3011.00};
\node[bx=maorange] at (1331,482) {3010.68};
\node[bx=black] at (1329,463) {3010.375};
\node[bx=mablue] at (1331,432) {3009.89};
\node[bx=boxgrey] at (1331,407) {3009.50};
\node[bx=black, draw=cred, line width=1pt] at (1331,392) {3009.25};
\node[bx=mablue] at (1331,282) {3007.50};
\node[bx=cred] at (1331,236) {3006.75};
\node[bx=cred] at (1331,204) {3006.25};
\node[bx=cred] at (1331,171) {-6.00};
\node[ll, font=\fs{10.5}, text=cred] at (1325,712) {3014.50};
\node[ll, text=mablue] at (1324,689) {THgh};
\node[ll, text=vagrey] at (1324,579) {VA};
\node[ll, text=tgreen] at (1324,501) {TOpen};
\node[ll, text=vagrey] at (1324,407) {VA};
\node[ll, font=\fs{10.5}, text=tgreen] at (1325,369) {3009.00};
\node[ll, text=mablue] at (1324,282) {YHgh};
\node[ll, text=cred] at (1324,236) {TLow};
\node[ll, text=cred] at (1324,204) {YClo};
\node[al, text=mablue, fill=white, inner sep=1pt] at (1117,726) {S2};
\node[al, text=vagrey] at (1118,579) {FU1};
\node[al, text=vagrey] at (1118,285) {FU1};
\node[anchor=west, font=\fs{11}\bfseries, inner sep=0pt] at (1117,439) {45\textsuperscript{o}};
\node[font=\fs{20}\bfseries, inner sep=0pt] at (1258,227) {27};
\node[al] at (1111,57) {21.34};
\node[fill=cgreen, font=\fs{10.5}, inner sep=1.5pt] at (1361,10) {7 L E};
\draw[cred, line width=1pt, -{Stealth[length=9pt,width=5pt]}] (1222,681) -- (1144,466);
\draw[black, line width=1.8pt] (1132,392) -- (1172,392);
\end{scope}
\end{tikzpicture}
\end{document}
